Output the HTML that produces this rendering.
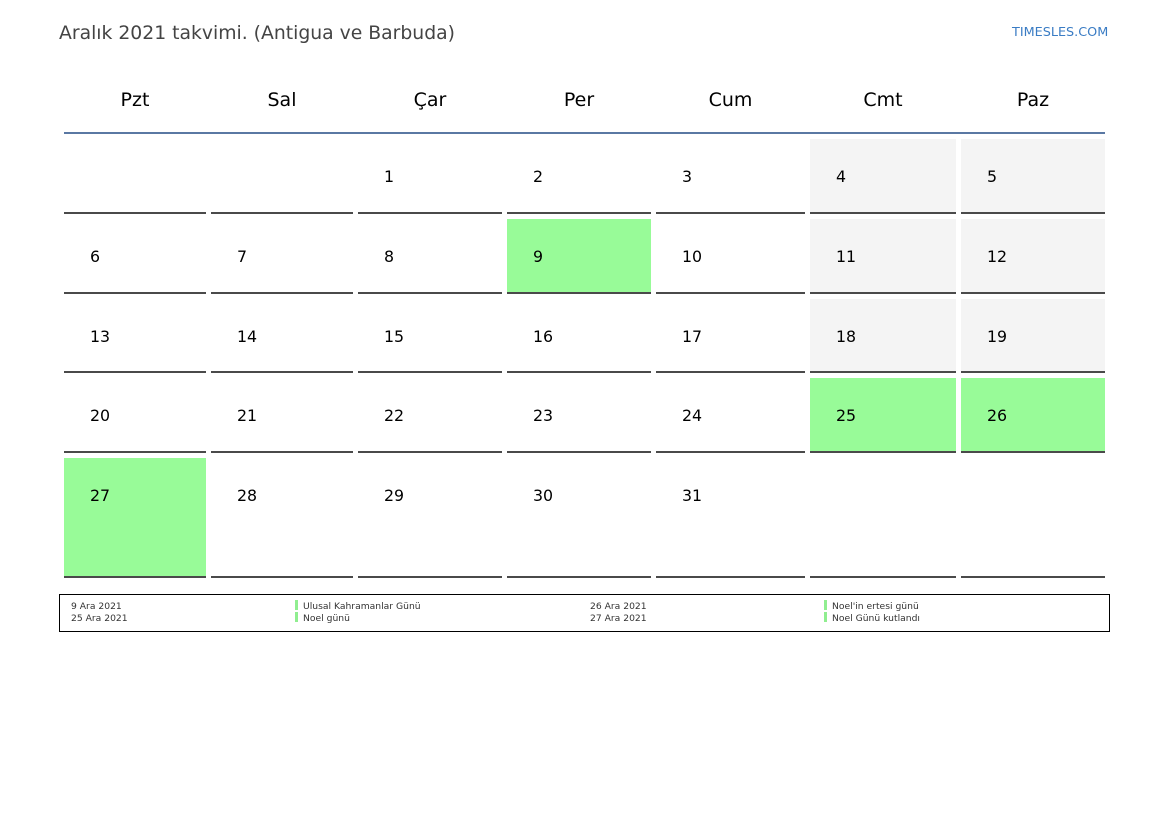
<!DOCTYPE html>
<html>
<head>
<meta charset="utf-8">
<style>
  html, body { margin:0; padding:0; }
  body { width:1169px; height:827px; background:#fff; position:relative; overflow:hidden;
         font-family:"DejaVu Sans","Liberation Sans",sans-serif; color:#000; }
  .abs { position:absolute; }
  .title { left:59px; top:21px; font-size:18.8px; color:#444; white-space:nowrap; line-height:26px; }
  .brand { left:1012px; top:25px; font-size:12.8px; color:#3a7cc4; white-space:nowrap; line-height:16px; }
  .hdr { top:87px; font-size:19px; text-align:center; line-height:26px; }
  .hline { left:64px; top:132px; width:1041px; height:2px; background:#5a78a3; }
  .cell { box-sizing:border-box; border-bottom:2px solid #4a4a4a; }
  .cell span { position:absolute; left:26px; top:29px; font-size:15.8px; line-height:18px; }
  .gray { background:#f4f4f4; }
  .green { background:#98fb98; }
  .legend { left:59px; top:594px; width:1051px; height:38px; box-sizing:border-box; border:1px solid #000; }
  .lt { font-size:9.2px; color:#333; white-space:nowrap; line-height:11px; }
  .bar { width:2.5px; height:10px; background:#90ee90; }
</style>
</head>
<body>
<div class="abs title">Aralık 2021 takvimi. (Antigua ve Barbuda)</div>
<div class="abs brand">TIMESLES.COM</div>

<div class="abs hdr" style="left:64px;width:142px;">Pzt</div>
<div class="abs hdr" style="left:211px;width:142px;">Sal</div>
<div class="abs hdr" style="left:358px;width:144px;">Çar</div>
<div class="abs hdr" style="left:507px;width:144px;">Per</div>
<div class="abs hdr" style="left:656px;width:149px;">Cum</div>
<div class="abs hdr" style="left:810px;width:146px;">Cmt</div>
<div class="abs hdr" style="left:961px;width:144px;">Paz</div>
<div class="abs hline"></div>

<!-- Row 1 -->
<div class="abs cell" style="left:64px;top:139px;width:142px;height:75px;"></div>
<div class="abs cell" style="left:211px;top:139px;width:142px;height:75px;"></div>
<div class="abs cell" style="left:358px;top:139px;width:144px;height:75px;"><span>1</span></div>
<div class="abs cell" style="left:507px;top:139px;width:144px;height:75px;"><span>2</span></div>
<div class="abs cell" style="left:656px;top:139px;width:149px;height:75px;"><span>3</span></div>
<div class="abs cell gray" style="left:810px;top:139px;width:146px;height:75px;"><span>4</span></div>
<div class="abs cell gray" style="left:961px;top:139px;width:144px;height:75px;"><span>5</span></div>

<!-- Row 2 -->
<div class="abs cell" style="left:64px;top:219px;width:142px;height:75px;"><span>6</span></div>
<div class="abs cell" style="left:211px;top:219px;width:142px;height:75px;"><span>7</span></div>
<div class="abs cell" style="left:358px;top:219px;width:144px;height:75px;"><span>8</span></div>
<div class="abs cell green" style="left:507px;top:219px;width:144px;height:75px;"><span>9</span></div>
<div class="abs cell" style="left:656px;top:219px;width:149px;height:75px;"><span>10</span></div>
<div class="abs cell gray" style="left:810px;top:219px;width:146px;height:75px;"><span>11</span></div>
<div class="abs cell gray" style="left:961px;top:219px;width:144px;height:75px;"><span>12</span></div>

<!-- Row 3 -->
<div class="abs cell" style="left:64px;top:299px;width:142px;height:74px;"><span>13</span></div>
<div class="abs cell" style="left:211px;top:299px;width:142px;height:74px;"><span>14</span></div>
<div class="abs cell" style="left:358px;top:299px;width:144px;height:74px;"><span>15</span></div>
<div class="abs cell" style="left:507px;top:299px;width:144px;height:74px;"><span>16</span></div>
<div class="abs cell" style="left:656px;top:299px;width:149px;height:74px;"><span>17</span></div>
<div class="abs cell gray" style="left:810px;top:299px;width:146px;height:74px;"><span>18</span></div>
<div class="abs cell gray" style="left:961px;top:299px;width:144px;height:74px;"><span>19</span></div>

<!-- Row 4 -->
<div class="abs cell" style="left:64px;top:378px;width:142px;height:75px;"><span>20</span></div>
<div class="abs cell" style="left:211px;top:378px;width:142px;height:75px;"><span>21</span></div>
<div class="abs cell" style="left:358px;top:378px;width:144px;height:75px;"><span>22</span></div>
<div class="abs cell" style="left:507px;top:378px;width:144px;height:75px;"><span>23</span></div>
<div class="abs cell" style="left:656px;top:378px;width:149px;height:75px;"><span>24</span></div>
<div class="abs cell green" style="left:810px;top:378px;width:146px;height:75px;"><span>25</span></div>
<div class="abs cell green" style="left:961px;top:378px;width:144px;height:75px;"><span>26</span></div>

<!-- Row 5 -->
<div class="abs cell green" style="left:64px;top:458px;width:142px;height:120px;"><span>27</span></div>
<div class="abs cell" style="left:211px;top:458px;width:142px;height:120px;"><span>28</span></div>
<div class="abs cell" style="left:358px;top:458px;width:144px;height:120px;"><span>29</span></div>
<div class="abs cell" style="left:507px;top:458px;width:144px;height:120px;"><span>30</span></div>
<div class="abs cell" style="left:656px;top:458px;width:149px;height:120px;"><span>31</span></div>
<div class="abs cell" style="left:810px;top:458px;width:146px;height:120px;"></div>
<div class="abs cell" style="left:961px;top:458px;width:144px;height:120px;"></div>

<!-- Legend -->
<div class="abs legend"></div>
<div class="abs lt" style="left:71px;top:601px;">9 Ara 2021</div>
<div class="abs lt" style="left:71px;top:613px;">25 Ara 2021</div>
<div class="abs bar" style="left:295px;top:600px;"></div>
<div class="abs bar" style="left:295px;top:612px;"></div>
<div class="abs lt" style="left:303px;top:601px;">Ulusal Kahramanlar Günü</div>
<div class="abs lt" style="left:303px;top:613px;">Noel günü</div>
<div class="abs lt" style="left:590px;top:601px;">26 Ara 2021</div>
<div class="abs lt" style="left:590px;top:613px;">27 Ara 2021</div>
<div class="abs bar" style="left:824px;top:600px;"></div>
<div class="abs bar" style="left:824px;top:612px;"></div>
<div class="abs lt" style="left:832px;top:601px;">Noel'in ertesi günü</div>
<div class="abs lt" style="left:832px;top:613px;">Noel Günü kutlandı</div>
</body>
</html>
